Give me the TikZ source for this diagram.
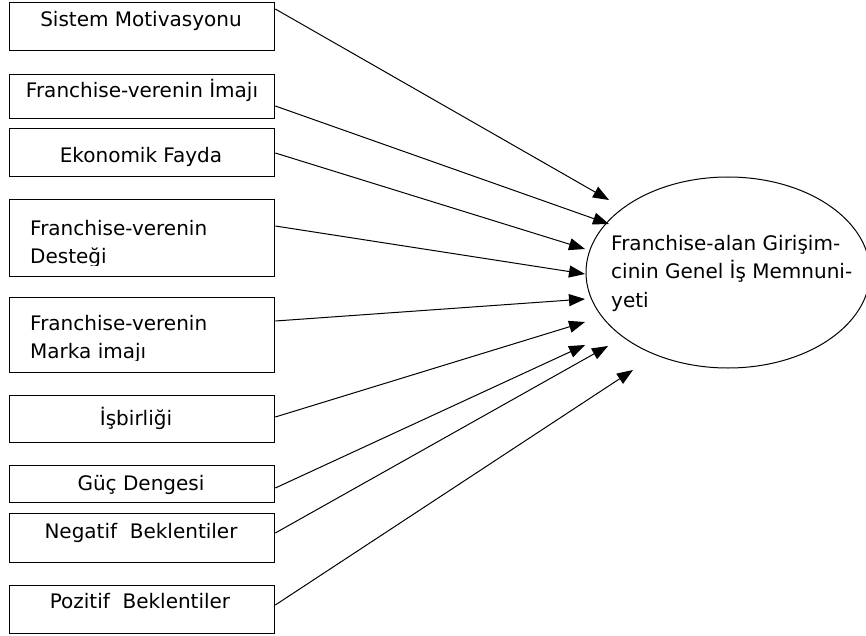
\documentclass[tikz,border=0pt]{standalone}
\usepackage{fontspec}
\setmainfont{DejaVu Sans}
\usetikzlibrary{arrows.meta,shapes.geometric}
\begin{document}
\begin{tikzpicture}[x=1pt,y=-1pt,
  factor/.style={draw=black,line width=1.3pt,rectangle,inner sep=0pt,minimum width=265pt,anchor=north west},
  lbl/.style={inner sep=0pt,font=\fontsize{20}{28.5}\selectfont},
  conn/.style={line width=1pt,-{Triangle[length=16pt,width=12pt]}},
  goal/.style={draw=black,line width=1pt,ellipse,inner sep=0pt,minimum width=284pt,minimum height=191pt}]
\useasboundingbox (0,0) rectangle (866,636);
% boxes
\node[factor,minimum height=48pt] (b1) at (9,2) {};
\node[factor,minimum height=44pt] (b2) at (9,74) {};
\node[factor,minimum height=48pt] (b3) at (9,128) {};
\node[factor,minimum height=77pt] (b4) at (9,199) {};
\node[factor,minimum height=75pt] (b5) at (9,297) {};
\node[factor,minimum height=47pt] (b6) at (9,395) {};
\node[factor,minimum height=37pt] (b7) at (9,465) {};
\node[factor,minimum height=49pt] (b8) at (9,513) {};
\node[factor,minimum height=48pt] (b9) at (9,585) {};
% box texts
\node[lbl,anchor=base] (t1) at (141,27) {Sistem Motivasyonu};
\node[lbl,anchor=base] (t2) at (142,98) {Franchise-verenin İmajı};
\node[lbl,anchor=base] (t3) at (141,163) {Ekonomik Fayda};
\node[lbl,anchor=base west] (t4a) at (30,235) {Franchise-verenin};
\begin{scope}
\clip (20,240) rectangle (270,265);
\node[lbl,anchor=base west] (t4b) at (30,263) {Desteği};
\end{scope}
\node[lbl,anchor=base west] (t5a) at (30,330) {Franchise-verenin};
\begin{scope}
\clip (20,335) rectangle (270,360);
\node[lbl,anchor=base west] (t5b) at (30,358) {Marka imajı};
\end{scope}
\node[lbl,anchor=base] (t6) at (136,425) {İşbirliği};
\node[lbl,anchor=base] (t7) at (141,490) {Güç Dengesi};
\node[lbl,anchor=base] (t8) at (141,538) {Negatif~ Beklentiler};
\node[lbl,anchor=base] (t9) at (140,608) {Pozitif~ Beklentiler};
% outcome
\node[goal] (g) at (728,272.5) {};
\node[lbl,anchor=base west,align=left] (gt) at (611,307) {Franchise-alan Girişim-\\cinin Genel İş Memnuni-\\yeti};
% arrow tips
\coordinate (p1) at (609,200);
\coordinate (p2) at (609,224);
\coordinate (p3) at (585,249);
\coordinate (p4) at (585,274);
\coordinate (p5) at (585,299);
\coordinate (p6) at (585,322);
\coordinate (p7) at (585,345);
\coordinate (p8) at (608,346);
\coordinate (p9) at (633,370);
% connectors
\draw[conn] ([yshift=-7pt]b1.north east) -- (p1);
\draw[conn] ([yshift=-32pt]b2.north east) -- (p2);
\draw[conn] ([yshift=-25pt]b3.north east) -- (p3);
\draw[conn] ([yshift=-27pt]b4.north east) -- (p4);
\draw[conn] ([yshift=-24pt]b5.north east) -- (p5);
\draw[conn] ([yshift=-22pt]b6.north east) -- (p6);
\draw[conn] ([yshift=-23pt]b7.north east) -- (p7);
\draw[conn] ([yshift=-20pt]b8.north east) -- (p8);
\draw[conn] ([yshift=-20pt]b9.north east) -- (p9);
\end{tikzpicture}
\end{document}
